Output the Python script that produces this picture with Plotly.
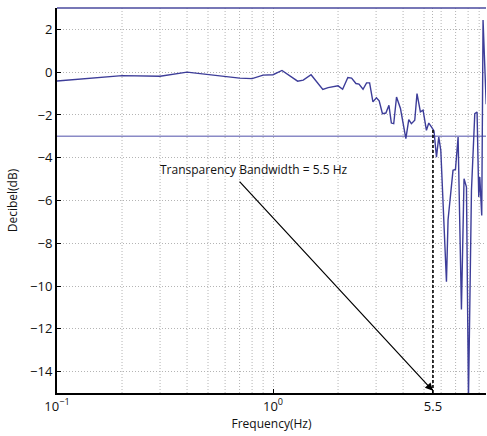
import math
import plotly.graph_objects as go

# ---- data ----
freq_hz = [0.1, 0.2, 0.3, 0.4, 0.7, 0.8, 0.9, 1.0, 1.1, 1.2, 1.3, 1.38, 1.5, 1.7, 1.8,
           2.0, 2.1, 2.22, 2.31, 2.42, 2.5, 2.61, 2.71, 2.8, 2.9, 3.01, 3.1, 3.21, 3.33,
           3.44, 3.53, 3.62, 3.73, 3.89, 4.12, 4.25, 4.37, 4.53, 4.64, 4.81, 4.95, 5.13,
           5.26, 5.41, 5.56, 5.71, 5.85, 5.98, 6.35, 6.46, 6.81, 6.99, 7.19, 7.45, 7.66,
           7.86, 8.03, 8.29, 8.59, 8.80, 8.96, 9.06, 9.25, 9.38, 9.70]
gain_db = [-0.41, -0.16, -0.19, 0.0, -0.28, -0.30, -0.14, -0.12, 0.08, -0.19, -0.42, -0.37,
           -0.12, -0.81, -0.72, -0.64, -0.80, -0.25, -0.28, -0.53, -0.56, -0.80, -0.50,
           -0.50, -1.39, -1.20, -1.34, -1.94, -1.91, -1.55, -2.38, -2.41, -1.16, -1.70,
           -3.11, -2.22, -2.41, -2.25, -1.00, -1.86, -1.78, -2.72, -2.38, -2.56, -2.75,
           -3.97, -3.03, -3.66, -9.80, -6.90, -4.59, -4.55, -3.03, -11.10, -4.98, -5.37,
           -15.30, -5.53, -1.94, -1.86, -5.84, -4.90, -6.70, 2.44, -1.50]

threshold_db = -3
bandwidth_hz = 5.5
bandwidth_gain_db = -2.7
annotation_text = "Transparency Bandwidth = 5.5 Hz"

x_range_hz = [0.1, 9.68]
y_range_db = [-15, 3]
minor_vals = [0.2, 0.3, 0.4, 0.5, 0.6, 0.7, 0.8, 0.9, 2, 3, 4, 5, 6, 7, 8, 9]
major_vals = [0.1, 1, 5.5]
major_text = ["10<sup>\u22121</sup>", "10<sup>0</sup>", "5.5"]
y_ticks = [-14, -12, -10, -8, -6, -4, -2, 0, 2]

FONT = "Open Sans"
line_col = "#3d3d99"
grid_col = "#b4b4b4"
grid_dash = "1px,2px"

fig = go.Figure()

# minor (log) grid lines
for v in minor_vals:
    fig.add_shape(type="line", xref="x", yref="paper", x0=v, x1=v,
                  y0=0, y1=1, layer="below", line=dict(color=grid_col, width=1, dash=grid_dash))

# threshold line
fig.add_trace(go.Scatter(x=x_range_hz, y=[threshold_db, threshold_db], mode="lines",
                         line=dict(color="#8a8ac6", width=1.5), hoverinfo="skip",
                         showlegend=False))
# response
fig.add_trace(go.Scatter(x=freq_hz, y=gain_db, mode="lines",
                         line=dict(color=line_col, width=1.4), showlegend=False))
# bandwidth dashed marker
fig.add_trace(go.Scatter(x=[bandwidth_hz, bandwidth_hz], y=[y_range_db[0], bandwidth_gain_db],
                         mode="lines", line=dict(color="black", width=1.6, dash="3px,2px"),
                         showlegend=False))

fig.update_xaxes(type="log", range=[math.log10(x_range_hz[0]), math.log10(x_range_hz[1])],
                 tickvals=major_vals, ticktext=major_text, ticks="inside", ticklen=4,
                 tickcolor="black", showgrid=True, gridcolor=grid_col, griddash=grid_dash,
                 gridwidth=1, showline=True, linecolor="black", linewidth=2,
                 zeroline=False, tickfont=dict(family=FONT, size=13, color="#111"),
                 title=dict(text="Frequency(Hz)", font=dict(family=FONT, size=12, color="#111"),
                            standoff=0))
fig.update_yaxes(range=y_range_db, tickvals=y_ticks,
                 ticktext=[("\u2212" + str(abs(v))) if v < 0 else str(v) for v in y_ticks],
                 ticks="inside", ticklen=4, tickcolor="black",
                 showgrid=True, gridcolor=grid_col, griddash=grid_dash, gridwidth=1,
                 showline=True, linecolor="black", linewidth=2, zeroline=False,
                 tickfont=dict(family=FONT, size=13, color="#111"),
                 title=dict(text="Decibel(dB)", font=dict(family=FONT, size=12, color="#111"),
                            standoff=10))

# top border (coloured box line)
fig.add_shape(type="line", xref="paper", yref="paper", x0=0, x1=1, y0=1, y1=1,
              line=dict(color="#4a4a9e", width=1.5))

# arrow
fig.add_annotation(x=math.log10(bandwidth_hz), y=y_range_db[0] + 0.1,
                   ax=math.log10(0.69), ay=-5.05, xref="x", yref="y", axref="x", ayref="y",
                   text="", showarrow=True, arrowhead=2, arrowsize=1.3, arrowwidth=1.2,
                   arrowcolor="black")
# label
fig.add_annotation(x=math.log10(0.814), y=-4.55, xref="x", yref="y", text=annotation_text,
                   showarrow=False, font=dict(family=FONT, size=12, color="#111"))

fig.update_layout(width=487, height=436, margin=dict(l=57, r=1, t=8, b=43),
                  plot_bgcolor="white", paper_bgcolor="white")

fig.write_html("out.html")
